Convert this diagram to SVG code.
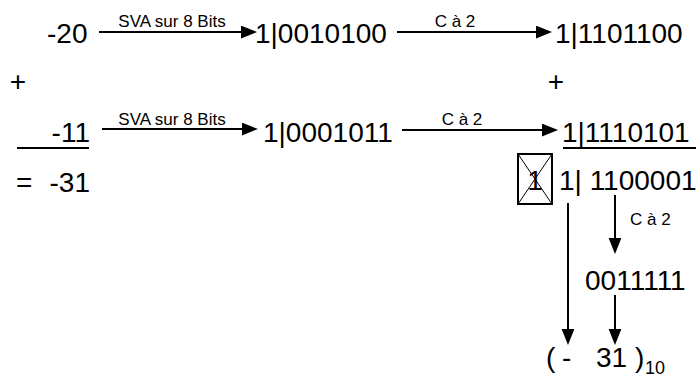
<svg xmlns="http://www.w3.org/2000/svg" width="697" height="379" viewBox="0 0 697 379">
<defs>
<marker id="ah" markerWidth="9" markerHeight="7" refX="0.5" refY="3.2" orient="auto" markerUnits="strokeWidth">
<path d="M0,0 L8,3.2 L0,6.4 Z" fill="#000"/>
</marker>
<style>
.t{font-family:"Liberation Sans",Arial,sans-serif;font-size:28px;fill:#000}
.l{font-family:"Liberation Sans",Arial,sans-serif;font-size:17px;fill:#000}
.c{stroke:#000;stroke-width:2;fill:none}
.x{stroke:#000;stroke-width:1;fill:none}
.a{stroke:#000;stroke-width:2;fill:none;marker-end:url(#ah)}
</style>
</defs>
<rect width="697" height="379" fill="#fff"/>
<g id="n-20"><text class="t" x="47" y="43">-20</text></g>
<g id="n-a1"><text class="t" x="255" y="43">1|0010100</text></g>
<g id="n-a2"><text class="t" x="555" y="43">1|1101100</text></g>
<g id="plus1"><text class="t" x="18" y="91" text-anchor="middle">+</text></g>
<g id="plus2"><text class="t" x="556" y="91" text-anchor="middle">+</text></g>
<g id="n-11"><text class="t" x="90" y="142" text-anchor="end">-11</text><line class="c" x1="17" y1="148" x2="89" y2="148"/></g>
<g id="n-b1"><text class="t" x="263" y="142">1|0001011</text></g>
<g id="n-b2"><text class="t" x="562" y="142">1|1110101</text><line class="c" x1="563" y1="148" x2="696" y2="148"/></g>
<g id="n-res"><text class="t" x="16" y="192">=</text><text class="t" x="90" y="192" text-anchor="end">-31</text></g>
<g id="n-carry"><rect class="c" x="518" y="154" width="34" height="50"/><line class="x" x1="518" y1="154" x2="552" y2="204"/><line class="x" x1="552" y1="154" x2="518" y2="204"/><text class="t" x="535" y="190" text-anchor="middle">1</text></g>
<g id="n-sum"><text class="t" x="559" y="190">1| 1100001</text></g>
<g id="n-c2"><text class="t" x="585" y="290">0011111</text></g>
<g id="n-final"><text class="t" y="367"><tspan x="546">(</tspan><tspan x="562">-</tspan><tspan x="596">31</tspan><tspan x="635">)</tspan></text><text class="t" x="645" y="374" style="font-size:18px">10</text></g>
<g id="connectors">
<line class="a" x1="99" y1="32" x2="242" y2="32"/>
<text class="l" x="172" y="27" text-anchor="middle">SVA sur 8 Bits</text>
<line class="a" x1="397" y1="32" x2="537" y2="32"/>
<text class="l" x="455" y="27" text-anchor="middle">C à 2</text>
<line class="a" x1="102" y1="129" x2="243" y2="129"/>
<text class="l" x="172" y="125" text-anchor="middle">SVA sur 8 Bits</text>
<line class="a" x1="402" y1="130" x2="543" y2="130"/>
<text class="l" x="462" y="125" text-anchor="middle">C à 2</text>
<line class="a" x1="568" y1="203" x2="568" y2="330"/>
<line class="a" x1="615" y1="195" x2="615" y2="239"/>
<text class="l" x="630" y="225">C à 2</text>
<line class="a" x1="615" y1="295" x2="615" y2="330"/>
</g>
</svg>
